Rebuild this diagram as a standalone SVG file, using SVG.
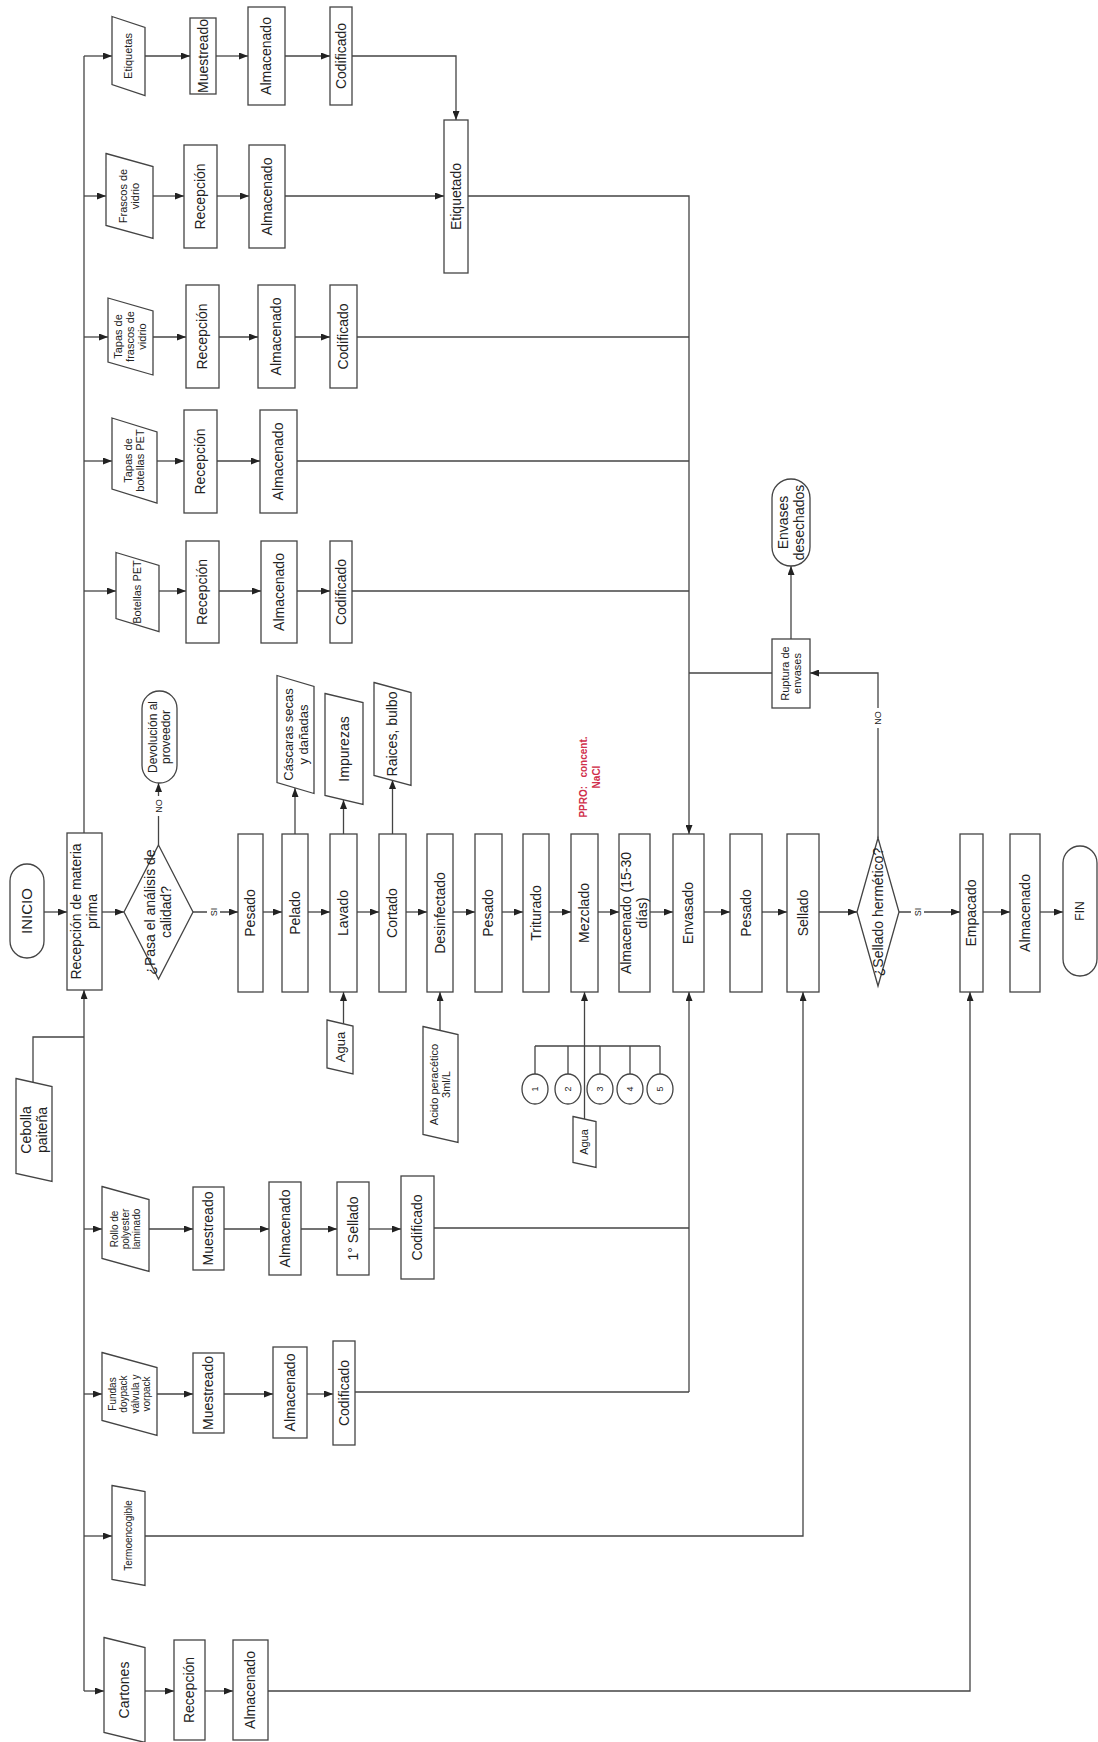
<svg xmlns="http://www.w3.org/2000/svg" width="1098" height="1742" viewBox="0 0 1098 1742">
<defs>
<marker id="ah" markerWidth="9" markerHeight="7" refX="9" refY="3.5" orient="auto" markerUnits="userSpaceOnUse"><path d="M0,0 L9,3.5 L0,7 z" fill="#222"/></marker>
<style>
.b{fill:#fff;stroke:#444;stroke-width:1.3}
.c{fill:none;stroke:#444;stroke-width:1.3}
.a{marker-end:url(#ah)}
text{font-family:"Liberation Sans",Arial,sans-serif;fill:#222;text-anchor:middle}
.f14{font-size:14px}.f12{font-size:12px}.f11{font-size:11px}.f10{font-size:10px}.f9{font-size:9px}.f15{font-size:15px}.f13{font-size:13px}
.red{fill:#d0304c;font-weight:bold;white-space:pre}
.lbl{fill:#fff;stroke:none}
</style>
</defs>
<rect width="1098" height="1742" fill="#fff"/>

<g id="connectors">
<!-- upper bus -->
<path class="c" d="M84,833 V56"/>
<path class="c a" d="M84,56 H112"/>
<path class="c a" d="M84,196 H106"/>
<path class="c a" d="M84,337 H108"/>
<path class="c a" d="M84,461 H112"/>
<path class="c a" d="M84,591 H116"/>
<!-- etiquetas row -->
<path class="c a" d="M145,56 H190"/>
<path class="c a" d="M216,56 H248"/>
<path class="c a" d="M285,56 H330"/>
<path class="c a" d="M352,56 H456 V120"/>
<!-- frascos row -->
<path class="c a" d="M153,196 H184"/>
<path class="c a" d="M217,196 H249"/>
<path class="c a" d="M285,196 H444"/>
<path class="c a" d="M468,196 H689 V834"/>
<!-- tapas frascos -->
<path class="c a" d="M153,337 H186"/>
<path class="c a" d="M219,337 H258"/>
<path class="c a" d="M295,337 H330"/>
<path class="c" d="M357,337 H689"/>
<!-- tapas pet -->
<path class="c a" d="M157,461 H184"/>
<path class="c a" d="M217,461 H260"/>
<path class="c" d="M297,461 H689"/>
<!-- botellas pet -->
<path class="c a" d="M159,591 H186"/>
<path class="c a" d="M219,591 H261"/>
<path class="c a" d="M297,591 H330"/>
<path class="c" d="M352,591 H689"/>
<!-- main flow -->
<path class="c a" d="M44,912 H67"/>
<path class="c a" d="M102,912 H124"/>
<path class="c a" d="M193,912 H238"/>
<path class="c a" d="M263,912 H282"/>
<path class="c a" d="M308,912 H330"/>
<path class="c a" d="M357,912 H379"/>
<path class="c a" d="M406,912 H427"/>
<path class="c a" d="M453,912 H475"/>
<path class="c a" d="M502,912 H523"/>
<path class="c a" d="M549,912 H571"/>
<path class="c a" d="M598,912 H619"/>
<path class="c a" d="M650,912 H673"/>
<path class="c a" d="M704,912 H730"/>
<path class="c a" d="M762,912 H787"/>
<path class="c a" d="M819,912 H857"/>
<path class="c a" d="M899,912 H960"/>
<path class="c a" d="M983,912 H1010"/>
<path class="c a" d="M1040,912 H1063"/>
<!-- NO branches -->
<path class="c a" d="M158.5,845 V783"/>
<path class="c a" d="M878,838 V673 H810"/>
<path class="c a" d="M791,639 V566"/>
<path class="c" d="M772,673 H689"/>
<!-- side outputs -->
<path class="c a" d="M295,834 V788"/>
<path class="c a" d="M343.5,834 V800"/>
<path class="c a" d="M392.5,834 V780"/>
<!-- inputs below -->
<path class="c a" d="M343.5,1024 V992"/>
<path class="c a" d="M440,1030 V992"/>
<path class="c a" d="M584.5,1119 V992"/>
<path class="c" d="M535,1046 H660 M535,1046 V1074 M568,1046 V1074 M600,1046 V1074 M630,1046 V1074 M660,1046 V1074"/>
<!-- cebolla and lower bus -->
<path class="c" d="M33,1082 V1037 H84"/>
<path class="c a" d="M84,1691 V990"/>
<path class="c a" d="M84,1229 H102"/>
<path class="c a" d="M84,1394 H102"/>
<path class="c a" d="M84,1536 H112"/>
<path class="c a" d="M84,1691 H104"/>
<!-- rollo row -->
<path class="c a" d="M149,1229 H193"/>
<path class="c a" d="M224,1229 H269"/>
<path class="c a" d="M301,1229 H337"/>
<path class="c a" d="M369,1229 H401"/>
<path class="c" d="M434,1228 H689"/>
<path class="c a" d="M689,1392 V992"/>
<!-- fundas row -->
<path class="c a" d="M157,1394 H193"/>
<path class="c a" d="M224,1394 H273"/>
<path class="c a" d="M307,1394 H333"/>
<path class="c" d="M355,1392 H689"/>
<!-- termo -->
<path class="c a" d="M145,1536 H803 V992"/>
<!-- cartones -->
<path class="c a" d="M145,1691 H174"/>
<path class="c a" d="M205,1691 H233"/>
<path class="c a" d="M268,1691 H970 V992"/>
<!-- labels -->
<rect class="lbl" x="207" y="903" width="13" height="18"/>
<text class="f9" transform="translate(213.5,912) rotate(-90)"><tspan x="0" y="3.2">SI</tspan></text>
<rect class="lbl" x="911" y="903" width="13" height="18"/>
<text class="f9" transform="translate(917.5,912) rotate(-90)"><tspan x="0" y="3.2">SI</tspan></text>
<rect class="lbl" x="152" y="796" width="13" height="20"/>
<text class="f9" transform="translate(158.5,806) rotate(-90)"><tspan x="0" y="3.2">NO</tspan></text>
<rect class="lbl" x="871" y="708" width="13" height="20"/>
<text class="f9" transform="translate(878,718) rotate(-90)"><tspan x="0" y="3.2">NO</tspan></text>
</g>

<!-- main flow nodes -->
<g id="inicio"><rect class="b" x="10" y="864" width="34" height="94" rx="17"/><text class="f15" transform="translate(27,911) rotate(-90)"><tspan x="0" y="5.3">INICIO</tspan></text></g>
<g id="recepcion-mp"><rect class="b" x="67" y="833" width="35" height="157"/><text class="f14" transform="translate(84.5,911.5) rotate(-90)"><tspan x="0" y="-3.1">Recepción de materia</tspan><tspan x="0" y="12.9">prima</tspan></text></g>
<g id="calidad"><polygon class="b" points="158.5,845 193,912 158.5,979 124,912"/><text class="f14" transform="translate(158.5,912) rotate(-90)"><tspan x="0" y="-3.1">¿Pasa el análisis de</tspan><tspan x="0" y="12.9">calidad?</tspan></text></g>
<g id="devolucion"><rect class="b" x="142" y="691" width="35" height="92" rx="17.5"/><text class="f12" transform="translate(159.5,737) rotate(-90)"><tspan x="0" y="-2.3">Devolución al</tspan><tspan x="0" y="10.7">proveedor</tspan></text></g>
<g id="pesado1"><rect class="b" x="238" y="834" width="25" height="158"/><text class="f14" transform="translate(250.5,913) rotate(-90)"><tspan x="0" y="4.9">Pesado</tspan></text></g>
<g id="pelado"><rect class="b" x="282" y="834" width="26" height="158"/><text class="f14" transform="translate(295,913) rotate(-90)"><tspan x="0" y="4.9">Pelado</tspan></text></g>
<g id="lavado"><rect class="b" x="330" y="834" width="27" height="158"/><text class="f14" transform="translate(343.5,913) rotate(-90)"><tspan x="0" y="4.9">Lavado</tspan></text></g>
<g id="cortado"><rect class="b" x="379" y="834" width="27" height="158"/><text class="f14" transform="translate(392.5,913) rotate(-90)"><tspan x="0" y="4.9">Cortado</tspan></text></g>
<g id="desinfectado"><rect class="b" x="427" y="834" width="26" height="158"/><text class="f14" transform="translate(440,913) rotate(-90)"><tspan x="0" y="4.9">Desinfectado</tspan></text></g>
<g id="pesado2"><rect class="b" x="475" y="834" width="27" height="158"/><text class="f14" transform="translate(488.5,913) rotate(-90)"><tspan x="0" y="4.9">Pesado</tspan></text></g>
<g id="triturado"><rect class="b" x="523" y="834" width="26" height="158"/><text class="f14" transform="translate(536,913) rotate(-90)"><tspan x="0" y="4.9">Triturado</tspan></text></g>
<g id="mezclado"><rect class="b" x="571" y="834" width="27" height="158"/><text class="f14" transform="translate(584.5,913) rotate(-90)"><tspan x="0" y="4.9">Mezclado</tspan></text></g>
<g id="almacenado-1530"><rect class="b" x="619" y="834" width="31" height="158"/><text class="f14" transform="translate(634.5,913) rotate(-90)"><tspan x="0" y="-3.1">Almacenado (15-30</tspan><tspan x="0" y="12.9">días)</tspan></text></g>
<g id="envasado"><rect class="b" x="673" y="834" width="31" height="158"/><text class="f14" transform="translate(688.5,913) rotate(-90)"><tspan x="0" y="4.9">Envasado</tspan></text></g>
<g id="pesado3"><rect class="b" x="730" y="834" width="32" height="158"/><text class="f14" transform="translate(746,913) rotate(-90)"><tspan x="0" y="4.9">Pesado</tspan></text></g>
<g id="sellado"><rect class="b" x="787" y="834" width="32" height="158"/><text class="f14" transform="translate(803,913) rotate(-90)"><tspan x="0" y="4.9">Sellado</tspan></text></g>
<g id="hermetico"><polygon class="b" points="878,838 899,912 878,986 857,912"/><text class="f14" transform="translate(878,912) rotate(-90)"><tspan x="0" y="4.9">¿Sellado hermético?</tspan></text></g>
<g id="empacado"><rect class="b" x="960" y="834" width="23" height="158"/><text class="f14" transform="translate(971.5,913) rotate(-90)"><tspan x="0" y="4.9">Empacado</tspan></text></g>
<g id="almacenado-final"><rect class="b" x="1010" y="834" width="30" height="158"/><text class="f14" transform="translate(1025,913) rotate(-90)"><tspan x="0" y="4.9">Almacenado</tspan></text></g>
<g id="fin"><rect class="b" x="1063" y="846" width="34" height="130" rx="17"/><text class="f12" transform="translate(1080,911) rotate(-90)"><tspan x="0" y="4.2">FIN</tspan></text></g>

<!-- rupture -->
<g id="ruptura"><rect class="b" x="772" y="639" width="38" height="69"/><text class="f11" transform="translate(791,673.5) rotate(-90)"><tspan x="0" y="-2.1">Ruptura de</tspan><tspan x="0" y="9.9">envases</tspan></text></g>
<g id="desechados"><rect class="b" x="772" y="479" width="38" height="87" rx="19"/><text class="f14" transform="translate(791,522.5) rotate(-90)"><tspan x="0" y="-3.1">Envases</tspan><tspan x="0" y="12.9">desechados</tspan></text></g>

<!-- side outputs -->
<g id="cascaras"><polygon class="b" points="277,675.5 314,686.5 314,793.5 277,782.5"/><text class="f13" transform="translate(295.5,734.5) rotate(-90)"><tspan x="0" y="-2.8">Cáscaras secas</tspan><tspan x="0" y="12.2">y dañadas</tspan></text></g>
<g id="impurezas"><polygon class="b" points="325,693.5 363,702.5 363,804.5 325,795.5"/><text class="f14" transform="translate(344,749) rotate(-90)"><tspan x="0" y="4.9">Impurezas</tspan></text></g>
<g id="raices"><polygon class="b" points="374,682.5 411,692.5 411,785.5 374,775.5"/><text class="f14" transform="translate(392.5,734) rotate(-90)"><tspan x="0" y="4.9">Raices, bulbo</tspan></text></g>
<g id="ppro"><text class="f10 red" transform="translate(590,777) rotate(-90)"><tspan x="0" y="-3">PPRO:   concent.</tspan><tspan x="0" y="10">NaCl</tspan></text></g>

<!-- inputs below main -->
<g id="agua1"><polygon class="b" points="327,1020 353,1026 353,1074 327,1068"/><text class="f13" transform="translate(340,1047) rotate(-90)"><tspan x="0" y="4.5">Agua</tspan></text></g>
<g id="acido"><polygon class="b" points="423,1026.5 458,1034.5 458,1142.5 423,1134.5"/><text class="f11" transform="translate(440.5,1084.5) rotate(-90)"><tspan x="0" y="-2.1">Acido peracético</tspan><tspan x="0" y="9.9">3ml/L</tspan></text></g>
<g id="agua2"><polygon class="b" points="573,1116.5 596,1121.5 596,1167.5 573,1162.5"/><text class="f11" transform="translate(584.5,1142) rotate(-90)"><tspan x="0" y="3.9">Agua</tspan></text></g>
<g id="c1"><ellipse class="b" cx="535" cy="1089" rx="13" ry="15"/><text class="f9" transform="translate(535,1089) rotate(-90)"><tspan x="0" y="3.2">1</tspan></text></g>
<g id="c2"><ellipse class="b" cx="568" cy="1089" rx="13" ry="15"/><text class="f9" transform="translate(568,1089) rotate(-90)"><tspan x="0" y="3.2">2</tspan></text></g>
<g id="c3"><ellipse class="b" cx="600" cy="1089" rx="13" ry="15"/><text class="f9" transform="translate(600,1089) rotate(-90)"><tspan x="0" y="3.2">3</tspan></text></g>
<g id="c4"><ellipse class="b" cx="630" cy="1089" rx="13" ry="15"/><text class="f9" transform="translate(630,1089) rotate(-90)"><tspan x="0" y="3.2">4</tspan></text></g>
<g id="c5"><ellipse class="b" cx="660" cy="1089" rx="13" ry="15"/><text class="f9" transform="translate(660,1089) rotate(-90)"><tspan x="0" y="3.2">5</tspan></text></g>

<!-- upper branches -->
<g id="etiquetas"><polygon class="b" points="112,16.5 145,27.5 145,95.5 112,84.5"/><text class="f11" transform="translate(128.5,56) rotate(-90)"><tspan x="0" y="3.9">Etiquetas</tspan></text></g>
<g id="et-muestreado"><rect class="b" x="190" y="18" width="26" height="76"/><text class="f14" transform="translate(203,56) rotate(-90)"><tspan x="0" y="4.9">Muestreado</tspan></text></g>
<g id="et-almacenado"><rect class="b" x="248" y="7" width="37" height="98"/><text class="f14" transform="translate(266.5,56) rotate(-90)"><tspan x="0" y="4.9">Almacenado</tspan></text></g>
<g id="et-codificado"><rect class="b" x="330" y="7" width="22" height="98"/><text class="f14" transform="translate(341,56) rotate(-90)"><tspan x="0" y="4.9">Codificado</tspan></text></g>
<g id="etiquetado"><rect class="b" x="444" y="120" width="24" height="153"/><text class="f14" transform="translate(456,196.5) rotate(-90)"><tspan x="0" y="4.9">Etiquetado</tspan></text></g>

<g id="frascos"><polygon class="b" points="106,153.5 153,166.5 153,238.5 106,225.5"/><text class="f11" transform="translate(129.5,196) rotate(-90)"><tspan x="0" y="-2.1">Frascos de</tspan><tspan x="0" y="9.9">vidrio</tspan></text></g>
<g id="fr-recepcion"><rect class="b" x="184" y="145" width="33" height="103"/><text class="f14" transform="translate(200.5,196.5) rotate(-90)"><tspan x="0" y="4.9">Recepción</tspan></text></g>
<g id="fr-almacenado"><rect class="b" x="249" y="145" width="36" height="103"/><text class="f14" transform="translate(267,196.5) rotate(-90)"><tspan x="0" y="4.9">Almacenado</tspan></text></g>

<g id="tapas-frascos"><polygon class="b" points="108,298 153,311 153,375 108,362"/><text class="f11" transform="translate(130.5,336.5) rotate(-90)"><tspan x="0" y="-8.1">Tapas de</tspan><tspan x="0" y="3.9">frascos de</tspan><tspan x="0" y="15.9">vidrio</tspan></text></g>
<g id="tf-recepcion"><rect class="b" x="186" y="285" width="33" height="103"/><text class="f14" transform="translate(202.5,336.5) rotate(-90)"><tspan x="0" y="4.9">Recepción</tspan></text></g>
<g id="tf-almacenado"><rect class="b" x="258" y="285" width="37" height="103"/><text class="f14" transform="translate(276.5,336.5) rotate(-90)"><tspan x="0" y="4.9">Almacenado</tspan></text></g>
<g id="tf-codificado"><rect class="b" x="330" y="285" width="27" height="103"/><text class="f14" transform="translate(343.5,336.5) rotate(-90)"><tspan x="0" y="4.9">Codificado</tspan></text></g>

<g id="tapas-pet"><polygon class="b" points="112,418 157,432 157,503 112,489"/><text class="f11" transform="translate(134.5,460.5) rotate(-90)"><tspan x="0" y="-2.1">Tapas de</tspan><tspan x="0" y="9.9">botellas PET</tspan></text></g>
<g id="tp-recepcion"><rect class="b" x="184" y="410" width="33" height="103"/><text class="f14" transform="translate(200.5,461.5) rotate(-90)"><tspan x="0" y="4.9">Recepción</tspan></text></g>
<g id="tp-almacenado"><rect class="b" x="260" y="410" width="37" height="103"/><text class="f14" transform="translate(278.5,461.5) rotate(-90)"><tspan x="0" y="4.9">Almacenado</tspan></text></g>

<g id="botellas-pet"><polygon class="b" points="116,552.5 159,565.5 159,631.5 116,618.5"/><text class="f11" transform="translate(137.5,592) rotate(-90)"><tspan x="0" y="3.9">Botellas PET</tspan></text></g>
<g id="bp-recepcion"><rect class="b" x="186" y="541" width="33" height="102"/><text class="f14" transform="translate(202.5,592) rotate(-90)"><tspan x="0" y="4.9">Recepción</tspan></text></g>
<g id="bp-almacenado"><rect class="b" x="261" y="541" width="36" height="102"/><text class="f14" transform="translate(279,592) rotate(-90)"><tspan x="0" y="4.9">Almacenado</tspan></text></g>
<g id="bp-codificado"><rect class="b" x="330" y="541" width="22" height="102"/><text class="f14" transform="translate(341,592) rotate(-90)"><tspan x="0" y="4.9">Codificado</tspan></text></g>

<!-- lower branches -->
<g id="cebolla"><polygon class="b" points="16,1078.5 52,1086.5 52,1181.5 16,1173.5"/><text class="f14" transform="translate(34,1130) rotate(-90)"><tspan x="0" y="-3.1">Cebolla</tspan><tspan x="0" y="12.9">paiteña</tspan></text></g>

<g id="rollo"><polygon class="b" points="102,1186.5 149,1199.5 149,1271.5 102,1258.5"/><text class="f10" transform="translate(125.5,1229) rotate(-90)"><tspan x="0" y="-7.5">Rollo de</tspan><tspan x="0" y="3.5">polyester</tspan><tspan x="0" y="14.5">laminado</tspan></text></g>
<g id="ro-muestreado"><rect class="b" x="193" y="1187" width="31" height="83"/><text class="f14" transform="translate(208.5,1228.5) rotate(-90)"><tspan x="0" y="4.9">Muestreado</tspan></text></g>
<g id="ro-almacenado"><rect class="b" x="269" y="1182" width="32" height="93"/><text class="f14" transform="translate(285,1228.5) rotate(-90)"><tspan x="0" y="4.9">Almacenado</tspan></text></g>
<g id="ro-sellado"><rect class="b" x="337" y="1182" width="32" height="93"/><text class="f14" transform="translate(353,1228.5) rotate(-90)"><tspan x="0" y="4.9">1° Sellado</tspan></text></g>
<g id="ro-codificado"><rect class="b" x="401" y="1176" width="33" height="103"/><text class="f14" transform="translate(417.5,1227.5) rotate(-90)"><tspan x="0" y="4.9">Codificado</tspan></text></g>

<g id="fundas"><polygon class="b" points="102,1352.5 157,1367.5 157,1435.5 102,1420.5"/><text class="f10" transform="translate(129.5,1394) rotate(-90)"><tspan x="0" y="-13.75">Fundas</tspan><tspan x="0" y="-2.25">doypack</tspan><tspan x="0" y="9.25">válvula y</tspan><tspan x="0" y="20.75">vorpack</tspan></text></g>
<g id="fu-muestreado"><rect class="b" x="193" y="1353" width="31" height="80"/><text class="f14" transform="translate(208.5,1393) rotate(-90)"><tspan x="0" y="4.9">Muestreado</tspan></text></g>
<g id="fu-almacenado"><rect class="b" x="273" y="1347" width="34" height="91"/><text class="f14" transform="translate(290,1392.5) rotate(-90)"><tspan x="0" y="4.9">Almacenado</tspan></text></g>
<g id="fu-codificado"><rect class="b" x="333" y="1341" width="22" height="104"/><text class="f14" transform="translate(344,1393) rotate(-90)"><tspan x="0" y="4.9">Codificado</tspan></text></g>

<g id="termo"><polygon class="b" points="112,1485.5 145,1491.5 145,1585.5 112,1579.5"/><text class="f10" transform="translate(128.5,1535.5) rotate(-90)"><tspan x="0" y="3.6">Termoencogible</tspan></text></g>

<g id="cartones"><polygon class="b" points="104,1637.5 145,1647.5 145,1742.5 104,1732.5"/><text class="f14" transform="translate(124.5,1690) rotate(-90)"><tspan x="0" y="4.9">Cartones</tspan></text></g>
<g id="ca-recepcion"><rect class="b" x="174" y="1640" width="31" height="100"/><text class="f14" transform="translate(189.5,1690) rotate(-90)"><tspan x="0" y="4.9">Recepción</tspan></text></g>
<g id="ca-almacenado"><rect class="b" x="233" y="1640" width="35" height="100"/><text class="f14" transform="translate(250.5,1690) rotate(-90)"><tspan x="0" y="4.9">Almacenado</tspan></text></g>
</svg>
